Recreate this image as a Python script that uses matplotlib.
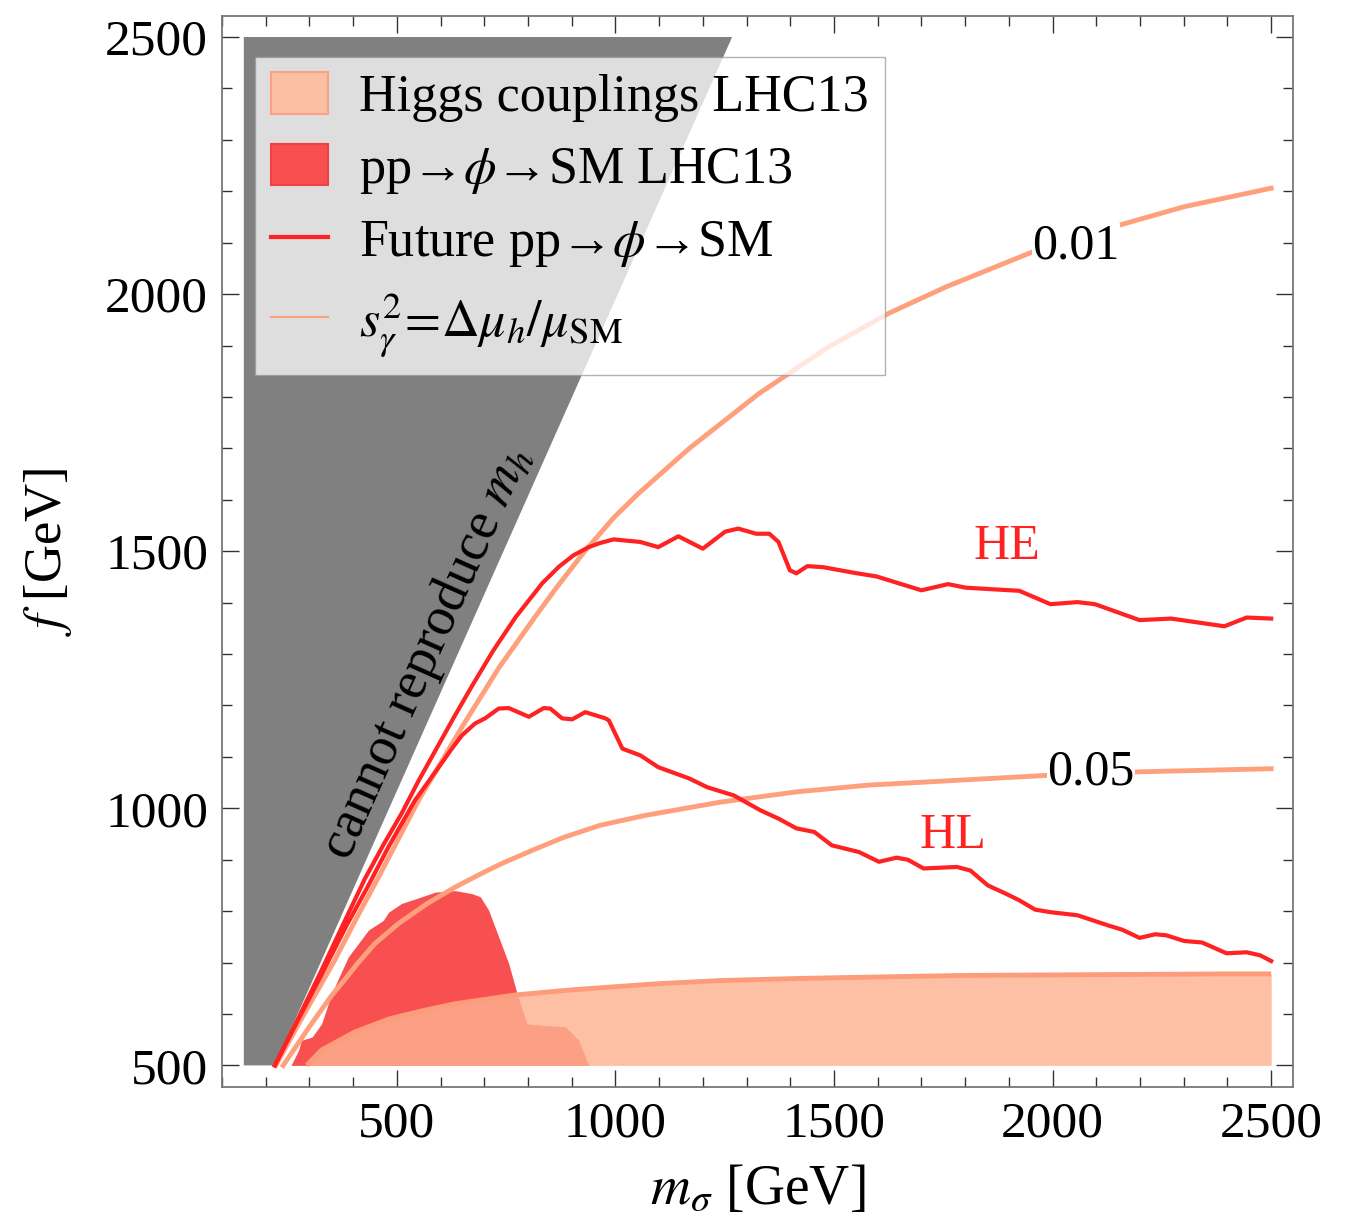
import numpy as np
import matplotlib
matplotlib.use("Agg")
import matplotlib.pyplot as plt
from matplotlib.patches import Patch
from matplotlib.lines import Line2D
from matplotlib.ticker import MultipleLocator

plt.rcParams["font.family"] = ["Liberation Serif", "DejaVu Serif"]
plt.rcParams["mathtext.fontset"] = "stix"

# region where m_h cannot be reproduced
gray_m = [150, 221, 1267, 150]
gray_f = [500, 500, 2500, 2500]

# s_gamma^2 contours
c01_m = [223, 288, 355, 410, 458, 550, 649, 734, 816, 866, 927, 996, 1050, 1100, 1169,
         1329, 1487, 1626, 1756, 1954, 2152, 2301, 2500]
c01_f = [500, 600, 700, 790, 866, 1016, 1158, 1274, 1372, 1430, 1497, 1565, 1610, 1648, 1700,
         1807, 1897, 1963, 2014, 2082, 2134, 2170, 2206]
c05_m = [240, 300, 350, 382, 410, 450, 504, 570, 634, 700, 741, 809, 880, 965, 1067, 1240,
         1414, 1577, 1750, 1985, 2199, 2500]
c05_f = [500, 575, 635, 668, 698, 737, 776, 815, 847, 876, 893, 918, 943, 967, 986, 1012,
         1032, 1045, 1053, 1064, 1071, 1077]

# future pp -> phi -> SM reach
he_m = [221, 265, 325, 376, 427, 470, 511, 550, 588, 630, 672, 720, 772, 833, 871, 904, 939,
        965, 996, 1057, 1098, 1144, 1200, 1251, 1281, 1322, 1352, 1373, 1399, 1414, 1439, 1475,
        1546, 1597, 1700, 1761, 1802, 1924, 1995, 2057, 2097, 2199, 2271, 2393, 2444, 2500]
he_f = [500, 575, 680, 772, 863, 930, 990, 1054, 1112, 1176, 1238, 1306, 1372, 1438, 1470, 1492, 1508,
        1516, 1523, 1518, 1508, 1529, 1505, 1538, 1544, 1534, 1534, 1518, 1463, 1457, 1471, 1469,
        1458, 1451, 1424, 1436, 1429, 1423, 1397, 1401, 1397, 1366, 1369, 1354, 1371, 1369]
hl_m = [221, 266, 330, 385, 435, 481, 542, 596, 625, 649, 679, 702, 733, 756, 802, 836, 851,
        878, 901, 931, 977, 985, 1016, 1057, 1098, 1169, 1210, 1271, 1332, 1373, 1414, 1455,
        1495, 1557, 1603, 1643, 1669, 1705, 1781, 1812, 1852, 1893, 1924, 1960, 1995, 2057, 2128,
        2159, 2199, 2235, 2260, 2301, 2342, 2398, 2444, 2475, 2500]
hl_f = [500, 575, 680, 772, 850, 925, 1016, 1080, 1115, 1142, 1165, 1175, 1194, 1195, 1178, 1195, 1194,
        1175, 1173, 1187, 1175, 1171, 1116, 1103, 1080, 1058, 1041, 1025, 996, 980, 961, 954,
        928, 915, 896, 904, 900, 883, 886, 879, 850, 834, 821, 803, 798, 792, 772,
        764, 748, 755, 753, 742, 739, 718, 720, 714, 703]

# LHC13 pp -> phi -> SM exclusion
lhc_m = [258, 275, 282, 306, 328, 351, 389, 435, 469, 481, 511, 557, 588, 634, 672, 691,
         710, 733, 756, 775, 798, 832, 886, 916, 939]
lhc_f = [500, 529, 549, 555, 581, 640, 711, 763, 782, 798, 815, 828, 837, 840, 834, 828,
         802, 750, 698, 640, 581, 578, 575, 549, 500]

# Higgs couplings LHC13 exclusion (upper edge)
hc_m = [294, 328, 404, 481, 557, 634, 771, 901, 1015, 1100, 1240, 1414, 1600, 1800, 2000, 2200, 2400, 2500]
hc_f = [500, 530, 565, 590, 606, 620, 637, 647, 654, 659, 665, 669, 672, 675, 676, 677, 678, 678]

GRAY = "#808080"
RED_FILL = "#F85050"
HIGGS_FILL = "#FDB292"
SALMON = "#FFA07D"
RED = "#FF2222"

fig = plt.figure(figsize=(13.5, 12.27), dpi=100)
ax = fig.add_axes([0.1644, 0.1141, 0.7934, 0.8729])

ax.fill(gray_m, gray_f, color=GRAY, lw=0, zorder=1)
ax.fill_between(lhc_m, 500, lhc_f, color=RED_FILL, lw=0, zorder=2)
ax.fill_between(hc_m, 500, hc_f, color=HIGGS_FILL, alpha=0.82, lw=0, zorder=3)
ax.plot(hc_m, hc_f, color="#FC9C7A", lw=3.5, zorder=3.5, solid_capstyle="butt")

ax.plot(c01_m, c01_f, color=SALMON, lw=3.5, zorder=4)
ax.plot(c05_m, c05_f, color=SALMON, lw=3.5, zorder=4)
ax.plot(he_m, he_f, color=RED, lw=3, zorder=5)
ax.plot(hl_m, hl_f, color=RED, lw=3, zorder=5)

lab = dict(fontsize=36, ha="center", va="center", zorder=6)
ax.text(2053, 2093, "0.01", bbox=dict(fc="white", ec="none", pad=0.5), **lab)
ax.text(2088, 1071, "0.05", bbox=dict(fc="white", ec="none", pad=0.5), **lab)
ax.text(1895, 1508, "HE", color=RED, **lab)
ax.text(1771, 946, "HL", color=RED, **lab)
ax.text(568, 1302, r"cannot reproduce $m_h$", fontsize=39, rotation=66, rotation_mode="anchor",
        ha="center", va="center", zorder=6)

ax.set_xlim(100, 2550)
ax.set_ylim(458, 2541)
ax.xaxis.set_major_locator(MultipleLocator(500))
ax.xaxis.set_minor_locator(MultipleLocator(100))
ax.yaxis.set_major_locator(MultipleLocator(500))
ax.yaxis.set_minor_locator(MultipleLocator(100))
ax.tick_params(which="both", direction="in", top=True, right=True, color="#333333", width=1)
ax.tick_params(which="major", length=12, labelsize=37, pad=10)
ax.tick_params(which="minor", length=7)
for s in ax.spines.values():
    s.set_color("#777777"); s.set_linewidth(1.3)

ax.set_xlabel(r"$m_\sigma$ [GeV]", fontsize=40, labelpad=12)
ax.set_ylabel(r"$f$ [GeV]", fontsize=38, labelpad=22)

handles = [Patch(facecolor="#FBBFA3", edgecolor="#FCA282", lw=1.5),
           Patch(facecolor=RED_FILL, edgecolor="#F04040", lw=1.5),
           Line2D([], [], color=RED, lw=3),
           Line2D([], [], color=SALMON, lw=1.5)]
labels = ["Higgs couplings LHC13", "pp\u2192$\\phi$\u2192SM LHC13",
          "Future pp\u2192$\\phi$\u2192SM", r"$s_\gamma^2\!=\!\Delta\mu_h/\mu_{\rm SM}$"]
leg = ax.legend(handles, labels, loc="upper left", bbox_to_anchor=(0.031, 0.962), borderaxespad=0,
                fontsize=37.5, frameon=True, fancybox=False, framealpha=0.75, edgecolor="#999999",
                handlelength=1.1, handleheight=0.85, handletextpad=0.6, labelspacing=0.42, borderpad=0.3)
leg.get_frame().set_linewidth(1)
leg.set_zorder(10)

fig.savefig("out.png", dpi=100)
